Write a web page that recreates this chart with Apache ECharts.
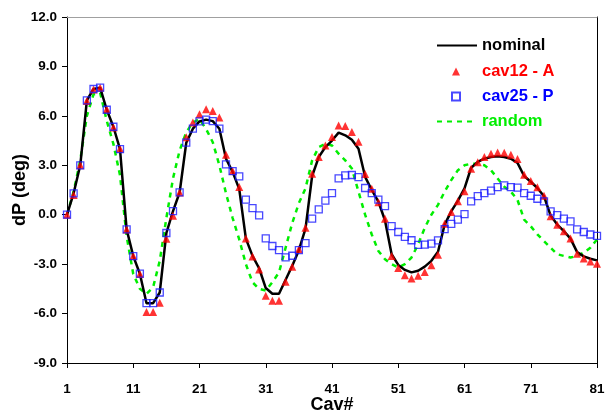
<!DOCTYPE html>
<html><head><meta charset="utf-8">
<script src="https://cdn.jsdelivr.net/npm/echarts@6/dist/echarts.min.js"></script>
<style>html,body{margin:0;padding:0;background:#fff}#c{width:607px;height:414px}</style>
</head><body><div id="c"></div>
<script>
const cav = ['1','2','3','4','5','6','7','8','9','10','11','12','13','14','15','16','17','18','19','20',
'21','22','23','24','25','26','27','28','29','30','31','32','33','34','35','36','37','38','39','40',
'41','42','43','44','45','46','47','48','49','50','51','52','53','54','55','56','57','58','59','60',
'61','62','63','64','65','66','67','68','69','70','71','72','73','74','75','76','77','78','79','80','81'];

const nominal = [0,1.3,3.0,6.94,7.63,7.71,6.37,5.34,3.98,-0.89,-2.51,-3.58,-5.37,-5.37,-4.72,-1.11,0.22,1.35,4.37,5.22,
5.66,5.77,5.68,5.22,3.4,2.6,1.55,-1.45,-2.5,-3.25,-4.45,-4.8,-4.8,-3.95,-3.1,-2.15,-0.85,2.35,3.5,4.1,
4.5,4.98,4.82,4.55,4.0,2.3,1.5,0.8,-0.35,-2.4,-3.05,-3.35,-3.5,-3.4,-3.15,-2.8,-2.25,-0.6,0.2,0.85,
1.6,2.85,3.2,3.4,3.5,3.55,3.5,3.4,3.15,2.35,2.0,1.62,1.12,-0.05,-0.6,-1.0,-1.45,-2.27,-2.53,-2.67,-2.77];

const cav12A = [0,1.2,3.0,6.9,7.6,7.7,6.4,5.3,4.0,-0.9,-2.5,-3.6,-5.9,-5.9,-5.35,-1.46,-0.06,1.35,4.7,5.6,
6.1,6.4,6.3,5.9,3.64,2.65,1.68,-1.44,-2.53,-3.32,-4.92,-5.22,-5.22,-4.07,-3.16,-2.1,-0.79,2.49,3.5,4.2,
4.71,5.42,5.38,5.02,4.43,2.47,1.58,0.75,-0.24,-2.51,-3.24,-3.67,-3.87,-3.7,-3.48,-3.06,-2.43,-0.55,0.16,0.82,
1.43,2.79,3.19,3.5,3.7,3.78,3.76,3.64,3.38,2.43,2.04,1.66,1.15,-0.1,-0.61,-1.0,-1.44,-2.37,-2.65,-2.84,-2.98];

const cav25P = [0,1.3,3.0,6.94,7.63,7.71,6.37,5.34,3.98,-0.89,-2.51,-3.58,-5.37,-5.37,-4.72,-1.11,0.22,1.35,4.37,5.22,
5.66,5.77,5.68,5.22,3.05,2.65,2.33,0.91,0.4,-0.04,-1.44,-1.9,-2.15,-2.59,-2.49,-2.15,-1.72,-0.24,0.32,0.86,
1.31,2.2,2.39,2.41,2.28,1.62,1.31,0.91,0.52,-0.69,-1.05,-1.34,-1.55,-1.83,-1.82,-1.76,-1.56,-0.87,-0.55,-0.3,
0.04,0.81,1.13,1.31,1.46,1.68,1.78,1.68,1.64,1.31,1.15,0.97,0.81,0.2,-0.02,-0.24,-0.41,-0.89,-1.05,-1.2,-1.28];

const random = [0,1.4,3.3,6.0,7.3,7.4,5.7,4.3,2.4,-1.3,-3.6,-4.5,-4.8,-4.4,-2.8,-0.2,2.2,3.9,5.0,5.6,
5.8,5.2,4.4,3.0,1.3,-0.2,-1.5,-3.0,-4.1,-4.5,-4.6,-4.1,-3.5,-2.0,-0.5,0.7,1.6,3.3,4.1,4.3,
4.2,3.7,3.3,2.8,1.4,0.0,-1.2,-2.2,-2.7,-3.0,-3.2,-3.0,-2.6,-1.8,-0.8,0.0,0.6,1.4,2.1,2.7,
3.0,3.1,3.1,3.0,2.7,2.2,1.7,1.4,0.9,-0.3,-0.7,-1.2,-1.6,-2.0,-2.4,-2.5,-2.6,-2.5,-2.3,-2.0,-1.5];

const FONT = "'Liberation Sans', Arial, sans-serif";
const legText = {fontFamily:FONT, fontWeight:'bold', fontSize:16.5};
const chart = echarts.init(document.getElementById('c'), null, {renderer:'canvas'});
chart.setOption({
  animation:false,
  backgroundColor:'#fff',
  grid:{left:67, top:17, right:10, bottom:51, containLabel:false, outerBoundsMode:'none'},
  legend:[{
    orient:'vertical', left:436, top:37, padding:0, itemWidth:40, itemHeight:9, itemGap:8,
    textStyle:legText,
    data:[{name:'nominal', icon:'inherit', itemStyle:{opacity:0}, textStyle:{color:'#000'}}]
  },{
    orient:'vertical', left:451, top:63, padding:0, itemWidth:8, itemHeight:8, itemGap:8,
    textStyle:Object.assign({padding:[0,0,0,17]}, legText),
    data:[
      {name:'cav12 - A', textStyle:{color:'#ff0000'}},
      {name:'cav25 - P', textStyle:{color:'#0000ff'}}
    ]
  },{
    orient:'vertical', left:436, top:113, padding:0, itemWidth:40, itemHeight:9, itemGap:8,
    textStyle:legText,
    data:[{name:'random', icon:'inherit', itemStyle:{opacity:0}, textStyle:{color:'#00ee00'}}]
  }],
  xAxis:[{
    type:'category', data:cav, boundaryGap:false,
    name:'Cav#', nameLocation:'middle', nameGap:33, nameMoveOverlap:false,
    nameTextStyle:{fontFamily:FONT, fontWeight:'bold', fontSize:18, color:'#000'},
    axisLine:{onZero:false, lineStyle:{color:'#000', width:1}},
    axisTick:{show:true, inside:false, length:5, interval:9, lineStyle:{color:'#000'}},
    axisLabel:{interval:9, margin:19, fontFamily:FONT, fontWeight:'bold', fontSize:13.5, color:'#000'},
    splitLine:{show:false}
  },{
    type:'category', data:cav, boundaryGap:false, position:'top',
    axisLine:{onZero:false, lineStyle:{color:'#a0a0a0', width:1}},
    axisTick:{show:false}, axisLabel:{show:false}, splitLine:{show:false}
  }],
  yAxis:[{
    type:'value', min:-9, max:12, interval:3,
    name:'dP (deg)', nameLocation:'middle', nameGap:38, nameRotate:90, nameMoveOverlap:false,
    nameTextStyle:{fontFamily:FONT, fontWeight:'bold', fontSize:18, color:'#000'},
    axisLine:{show:true, onZero:false, lineStyle:{color:'#000', width:1}},
    axisTick:{show:true, inside:false, length:5, lineStyle:{color:'#000'}},
    axisLabel:{margin:10, fontFamily:FONT, fontWeight:'bold', fontSize:13.5, color:'#000',
      formatter:v=>v.toFixed(1)},
    splitLine:{show:false}
  },{
    type:'value', min:-9, max:12, interval:3, position:'right',
    axisLine:{show:true, onZero:false, lineStyle:{color:'#000', width:1}},
    axisTick:{show:false}, axisLabel:{show:false}, splitLine:{show:false}
  }],
  series:[
    {name:'random', type:'line', data:random, symbol:'none', z:2,
      lineStyle:{color:'#00ee00', width:2.5, type:[5,5]}, itemStyle:{color:'#00ee00'}},
    {name:'nominal', type:'line', data:nominal, symbol:'none', z:3,
      lineStyle:{color:'#000', width:2.5}, itemStyle:{color:'#000'}},
    {name:'cav12 - A', type:'scatter', data:cav12A, symbol:'triangle', symbolSize:8, z:4,
      itemStyle:{color:'#ff0000'}},
    {name:'cav25 - P', type:'scatter', data:cav25P, symbol:'rect', symbolSize:7, z:5,
      itemStyle:{color:'rgba(0,0,0,0)', borderColor:'#1a1aff', borderWidth:1.3}}
  ]
});
</script></body></html>
